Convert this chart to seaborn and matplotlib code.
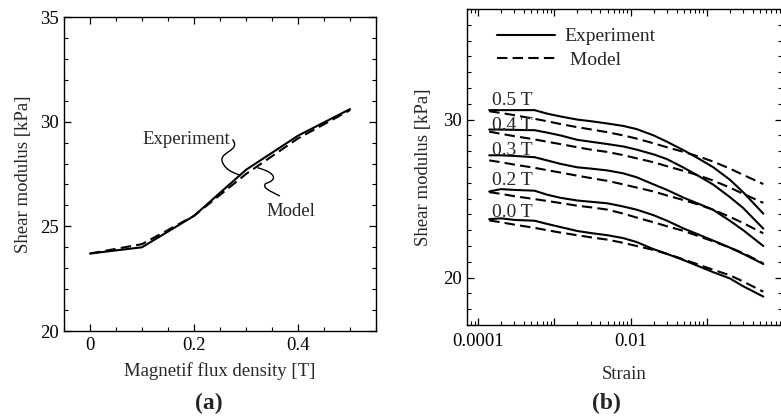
import numpy as np
import pandas as pd
import matplotlib
matplotlib.use("Agg")
import matplotlib.pyplot as plt
import seaborn as sns
from matplotlib.ticker import FixedLocator, FixedFormatter, LogLocator, NullFormatter, MultipleLocator
from matplotlib.lines import Line2D
from matplotlib.path import Path
from matplotlib.patches import PathPatch

# ---------------- data: panel (a) ----------------
flux = [0.0, 0.1, 0.2, 0.3, 0.4, 0.5]
exp_a = [23.7, 24.0, 25.5, 27.7, 29.33, 30.6]
model_a = [23.7, 24.15, 25.5, 27.5, 29.2, 30.55]

# ---------------- data: panel (b) ----------------
strain = [1.4e-4, 2e-4, 3e-4, 5.5e-4, 8e-4, 1.2e-3, 2e-3, 3e-3, 5e-3, 8e-3,
          1.2e-2, 2e-2, 3e-2, 5e-2, 8e-2, 0.12, 0.2, 0.3, 0.55]
fields = ["0.5 T", "0.4 T", "0.3 T", "0.2 T", "0.0 T"]
exp_05 = [30.6, 30.6, 30.6, 30.6, 30.38, 30.2, 30.0, 29.9, 29.75, 29.6,
          29.4, 29.0, 28.6, 28.05, 27.5, 27.0, 26.2, 25.4, 24.05]
mod_05 = [30.53, 30.42, 30.28, 30.05, 29.9, 29.72, 29.52, 29.38, 29.2, 29.0,
          28.8, 28.5, 28.25, 27.95, 27.65, 27.35, 26.9, 26.5, 25.92]
exp_04 = [29.37, 29.37, 29.35, 29.33, 29.18, 29.0, 28.72, 28.6, 28.45, 28.3,
          28.1, 27.8, 27.5, 26.95, 26.4, 25.9, 25.1, 24.4, 23.1]
mod_04 = [29.24, 29.1, 28.95, 28.75, 28.6, 28.45, 28.25, 28.1, 27.95, 27.75,
          27.55, 27.3, 27.05, 26.75, 26.45, 26.15, 25.7, 25.3, 24.73]
exp_03 = [27.74, 27.74, 27.7, 27.62, 27.42, 27.2, 26.98, 26.9, 26.78, 26.6,
          26.35, 25.9, 25.55, 25.05, 24.65, 24.3, 23.6, 23.0, 22.0]
mod_03 = [27.42, 27.3, 27.15, 26.95, 26.8, 26.65, 26.45, 26.3, 26.12, 25.9,
          25.7, 25.45, 25.2, 24.9, 24.6, 24.3, 23.85, 23.45, 22.8]
exp_02 = [25.45, 25.6, 25.55, 25.5, 25.25, 25.05, 24.88, 24.8, 24.7, 24.5,
          24.3, 23.95, 23.6, 23.1, 22.7, 22.35, 21.9, 21.5, 20.86]
mod_02 = [25.41, 25.3, 25.15, 24.97, 24.85, 24.72, 24.55, 24.45, 24.3, 24.05,
          23.8, 23.5, 23.25, 22.95, 22.6, 22.3, 21.9, 21.55, 20.9]
exp_00 = [23.7, 23.75, 23.65, 23.6, 23.4, 23.2, 22.95, 22.82, 22.68, 22.5,
          22.25, 21.8, 21.5, 21.1, 20.7, 20.35, 19.95, 19.45, 18.8]
mod_00 = [23.62, 23.5, 23.35, 23.15, 23.0, 22.85, 22.68, 22.55, 22.4, 22.2,
          22.0, 21.75, 21.5, 21.15, 20.8, 20.5, 20.15, 19.75, 19.11]
label_y = [30.9, 29.33, 27.75, 25.85, 23.85]   # baseline of field labels

exp_b = [exp_05, exp_04, exp_03, exp_02, exp_00]
mod_b = [mod_05, mod_04, mod_03, mod_02, mod_00]

# ---------------- style ----------------
sns.set_style("ticks")
plt.rcParams["font.family"] = ["Liberation Serif", "DejaVu Serif"]
plt.rcParams.update({
    "xtick.direction": "in", "ytick.direction": "in",
    "xtick.top": True, "ytick.right": True,
    "xtick.major.size": 5, "ytick.major.size": 5,
    "xtick.minor.size": 3, "ytick.minor.size": 3,
    "xtick.major.width": 0.9, "ytick.major.width": 0.9,
    "xtick.minor.width": 0.8, "ytick.minor.width": 0.8,
    "axes.linewidth": 1.0, "axes.edgecolor": "black",
    "xtick.color": "black", "ytick.color": "black",
})

FS = 13.5
W, H = 781, 419
fig = plt.figure(figsize=(W / 100, H / 100), dpi=100)
axa = fig.add_axes([64 / W, 1 - 331 / H, (376 - 64) / W, (331 - 17) / H])
axb = fig.add_axes([467 / W, 1 - 325 / H, (782 - 467) / W, (325 - 9) / H])

DASH = (5, 2.5)
LW = 1.5

# ---------------- panel (a) ----------------
dfa = pd.DataFrame({
    "B": flux * 2,
    "G": exp_a + model_a,
    "kind": ["Experiment"] * len(flux) + ["Model"] * len(flux),
})
sns.lineplot(data=dfa, x="B", y="G", style="kind", color="black",
             dashes={"Experiment": "", "Model": DASH}, lw=LW,
             legend=False, ax=axa)
axa.set_xlim(-0.05, 0.55)
axa.set_ylim(20, 35)
axa.xaxis.set_major_locator(FixedLocator([0, 0.2, 0.4]))
axa.xaxis.set_major_formatter(FixedFormatter(["0", "0.2", "0.4"]))
axa.xaxis.set_minor_locator(MultipleLocator(0.05))
axa.yaxis.set_major_locator(MultipleLocator(5))
axa.yaxis.set_minor_locator(MultipleLocator(1))
axa.tick_params(which="both", labelsize=FS, direction="in", top=True, right=True)
axa.tick_params(axis="x", pad=4)
axa.set_xlabel("Magnetif flux density [T]", fontsize=FS, labelpad=6)
axa.set_ylabel("Shear modulus [kPa]", fontsize=FS, labelpad=6)

axa.text(0.185, 29.15, "Experiment", fontsize=FS, ha="center", va="center")
axa.text(0.387, 25.72, "Model", fontsize=FS, ha="center", va="center")

# squiggly leader lines (annotation decoration)
lead_exp = Path([(0.274, 29.15), (0.292, 28.6), (0.245, 28.55), (0.255, 28.05),
                 (0.262, 27.6), (0.285, 27.5), (0.29, 27.42)],
                [Path.MOVETO, Path.CURVE4, Path.CURVE4, Path.CURVE4,
                 Path.CURVE4, Path.CURVE4, Path.CURVE4])
lead_mod = Path([(0.322, 27.8), (0.36, 27.55), (0.36, 27.2), (0.338, 27.05),
                 (0.33, 26.85), (0.345, 26.7), (0.365, 26.45)],
                [Path.MOVETO, Path.CURVE4, Path.CURVE4, Path.CURVE4,
                 Path.CURVE4, Path.CURVE4, Path.CURVE4])
for p in (lead_exp, lead_mod):
    axa.add_patch(PathPatch(p, fill=False, lw=1.0, color="black"))

# ---------------- panel (b) ----------------
rows = []
for f, e, m in zip(fields, exp_b, mod_b):
    for s, v in zip(strain, e):
        rows.append((f, "Experiment", s, v))
    for s, v in zip(strain, m):
        rows.append((f, "Model", s, v))
dfb = pd.DataFrame(rows, columns=["field", "kind", "strain", "G"])
sns.lineplot(data=dfb, x="strain", y="G", style="kind", units="field",
             estimator=None, color="black",
             dashes={"Experiment": "", "Model": DASH}, lw=LW,
             legend=False, ax=axb)
axb.set_xscale("log")
axb.set_xlim(7.16e-5, 0.967)
axb.set_ylim(17, 37)
axb.xaxis.set_major_locator(FixedLocator([1e-4, 1e-3, 1e-2, 1e-1, 1]))
axb.xaxis.set_major_formatter(FixedFormatter(["0.0001", "", "0.01", "", ""]))
axb.xaxis.set_minor_locator(LogLocator(base=10, subs=np.arange(2, 10), numticks=20))
axb.xaxis.set_minor_formatter(NullFormatter())
axb.yaxis.set_major_locator(FixedLocator([20, 30]))
axb.yaxis.set_minor_locator(MultipleLocator(1))
axb.tick_params(which="both", labelsize=FS, direction="in", top=True, right=True)
axb.tick_params(axis="x", pad=6)
axb.set_xlabel("Strain", fontsize=FS, labelpad=11)
axb.set_ylabel("Shear modulus [kPa]", fontsize=FS, labelpad=8)

for f, yb in zip(fields, label_y):
    axb.text(1.54e-4, yb, f, fontsize=14, ha="left", va="baseline")

handles = [Line2D([], [], color="black", lw=LW),
           Line2D([], [], color="black", lw=LW, dashes=DASH)]
axb.legend(handles, ["Experiment", " Model"], loc="upper left",
           bbox_to_anchor=(0.07, 0.965), frameon=False, fontsize=14,
           handlelength=3.0, handletextpad=0.5, labelspacing=0.3,
           borderaxespad=0)

for ax in (axa, axb):
    for s in ax.spines.values():
        s.set_visible(True)
        s.set_color("black")

fig.text(209 / W, 1 - 403 / H, "(a)", fontsize=17, fontweight="bold",
         ha="center", va="center")
fig.text(606 / W, 1 - 403 / H, "(b)", fontsize=17, fontweight="bold",
         ha="center", va="center")

fig.savefig("out.png", dpi=100)
